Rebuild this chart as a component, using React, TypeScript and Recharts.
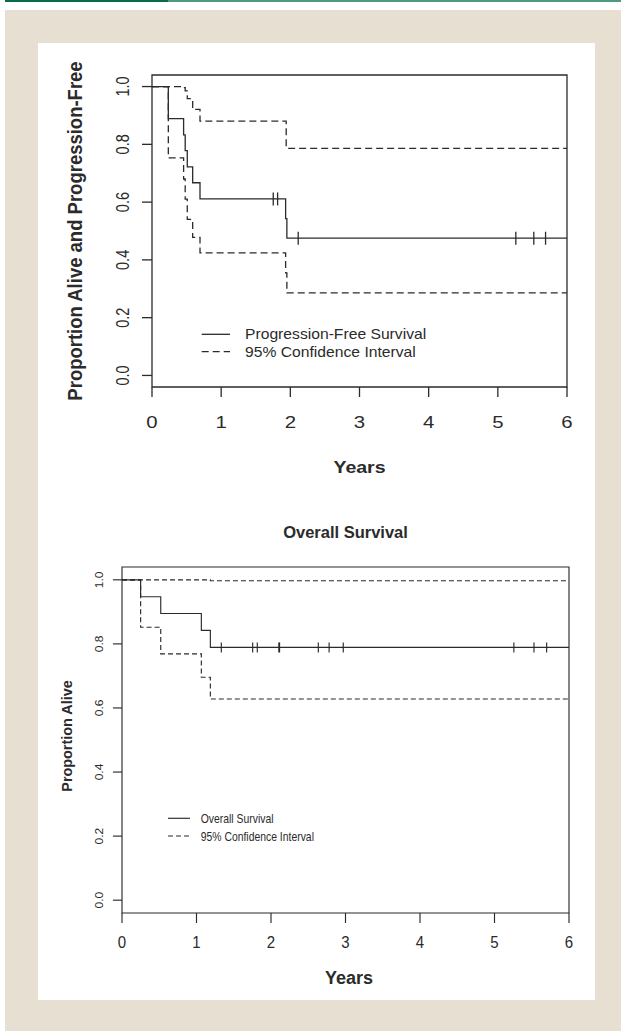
import React from 'react'
import { ComposedChart, Line, Scatter, XAxis, YAxis, ReferenceArea, Legend, Label } from 'recharts'

const FONT = '"Liberation Sans", Arial, Helvetica, sans-serif'
const INK = '#2b2b2b'

// progression-free survival (top panel)
const pfsTimes = [0, 0.236, 0.457, 0.48, 0.51, 0.588, 0.694, 1.932, 1.95, 6]
const pfsSurv = [1, 0.889, 0.833, 0.778, 0.722, 0.667, 0.611, 0.543, 0.475, 0.475]
const pfsLower = [1, 0.753, 0.68, 0.61, 0.54, 0.478, 0.424, 0.355, 0.286, 0.286]
const pfsUpperTimes = [0, 0.457, 0.48, 0.51, 0.588, 0.694, 1.94, 6]
const pfsUpper = [1, 0.996, 0.985, 0.958, 0.921, 0.88, 0.786, 0.786]
const pfsCensorTimes = [1.753, 1.816, 2.114, 5.26, 5.52, 5.69]
const pfsCensorSurv = [0.611, 0.611, 0.475, 0.475, 0.475, 0.475]
const pfsLegend = ['Progression-Free Survival', '95% Confidence Interval']

// overall survival (bottom panel)
const osTimes = [0, 0.25, 0.52, 1.065, 1.186, 6]
const osSurv = [1, 0.947, 0.895, 0.842, 0.789, 0.789]
const osLower = [1, 0.852, 0.769, 0.696, 0.628, 0.628]
const osUpperTimes = [0, 1.186, 6]
const osUpper = [1, 0.997, 0.997]
const osCensorTimes = [1.333, 1.754, 1.816, 2.105, 2.115, 2.635, 2.78, 2.97, 5.26, 5.53, 5.7]
const osCensorSurv = [0.789, 0.789, 0.789, 0.789, 0.789, 0.789, 0.789, 0.789, 0.789, 0.789, 0.789]
const osLegend = ['Overall Survival', '95% Confidence Interval']

const xTicks = [0, 1, 2, 3, 4, 5, 6]
const yTicks = [0, 0.2, 0.4, 0.6, 0.8, 1]

const zip = (t: number[], s: number[]) => t.map((v, i) => ({ t: v, s: s[i] }))

// text centred on (x, y), optionally stretched / rotated like the scanned figure
function StretchText({ x, y, text, size, sx = 1, sy = 1, rotate = 0, bold = false, anchor = 'middle' }: any) {
  return (
    <g transform={`translate(${x},${y}) scale(${sx},${sy}) rotate(${rotate})`}>
      <text
        x={0}
        y={0}
        dy={size * 0.358}
        textAnchor={anchor}
        fontSize={size}
        fontWeight={bold ? 'bold' : 'normal'}
        fontFamily={FONT}
        fill={INK}
      >
        {text}
      </text>
    </g>
  )
}

function KeyBox({ items, x1, x2, textX, rows, size, sx, dash, sw, width, height }: any) {
  return (
    <svg width={width} height={height} style={{ overflow: 'visible' }}>
      {items.map((label: string, i: number) => (
        <g key={label}>
          <line x1={x1} x2={x2} y1={rows[i]} y2={rows[i]} stroke={INK} strokeWidth={sw} strokeDasharray={i === 0 ? undefined : dash} />
          <StretchText x={textX} y={rows[i]} text={label} size={size} sx={sx} anchor="start" />
        </g>
      ))}
    </svg>
  )
}

function censorMark(half: number, sw: number) {
  return (p: any) => (
    <line x1={p.cx} x2={p.cx} y1={p.cy - half} y2={p.cy + half} stroke={INK} strokeWidth={sw} />
  )
}

function PfsChart() {
  const box = { left: 152, top: 75, right: 567, bottom: 387 }
  const dash = '7 4'
  const sw = 1.3
  return (
    <ComposedChart width={621} height={500} margin={{ top: 75, left: 92, right: 54, bottom: 53 }}>
      <XAxis
        type="number"
        dataKey="t"
        domain={[0, 6]}
        ticks={xTicks}
        allowDataOverflow
        height={60}
        axisLine={false}
        tickSize={10}
        tickLine={{ stroke: INK, strokeWidth: sw }}
        tick={(p: any) => (
          <StretchText x={p.x} y={box.bottom + 34.7} text={String(p.payload.value)} size={16.3} sx={1.25} />
        )}
      >
        <Label content={() => <StretchText x={359.5} y={467} text="Years" size={17} sx={1.15} bold />} />
      </XAxis>
      <YAxis
        type="number"
        dataKey="s"
        domain={[-0.04, 1.04]}
        ticks={yTicks}
        allowDataOverflow
        width={60}
        axisLine={false}
        tickSize={10}
        tickLine={{ stroke: INK, strokeWidth: sw }}
        tick={(p: any) => (
          <StretchText x={122} y={p.y} text={Number(p.payload.value).toFixed(1)} size={14.5} sx={1.3} rotate={-90} />
        )}
      >
        <Label
          content={() => (
            <StretchText x={75} y={231} text="Proportion Alive and Progression-Free" size={18.5} sx={1.12} rotate={-90} bold />
          )}
        />
      </YAxis>
      <ReferenceArea x1={0} x2={6} y1={-0.04} y2={1.04} fill="none" stroke={INK} strokeWidth={sw} />
      <Line data={zip(pfsUpperTimes, pfsUpper)} dataKey="s" type="stepAfter" stroke={INK} strokeWidth={sw} strokeDasharray={dash} dot={false} activeDot={false} isAnimationActive={false} />
      <Line data={zip(pfsTimes, pfsLower)} dataKey="s" type="stepAfter" stroke={INK} strokeWidth={sw} strokeDasharray={dash} dot={false} activeDot={false} isAnimationActive={false} />
      <Line data={zip(pfsTimes, pfsSurv)} dataKey="s" type="stepAfter" stroke={INK} strokeWidth={sw} dot={false} activeDot={false} isAnimationActive={false} />
      <Scatter data={zip(pfsCensorTimes, pfsCensorSurv)} dataKey="s" shape={censorMark(6.5, sw)} isAnimationActive={false} />
      <Legend
        layout="horizontal"
        verticalAlign="middle"
        align="center"
        wrapperStyle={{ position: 'absolute', left: 190, top: 320, width: 260, height: 45 }}
        content={() => (
          <KeyBox items={pfsLegend} x1={11.7} x2={40} textX={55} rows={[14.3, 31.7]} size={14} sx={1.12} dash={dash} sw={sw} width={260} height={45} />
        )}
      />
    </ComposedChart>
  )
}

function OsChart() {
  const box = { left: 122, top: 87, right: 569, bottom: 433 }
  const dash = '5 3'
  const sw = 1.15
  return (
    <ComposedChart width={621} height={540} margin={{ top: 87, left: 62, right: 52, bottom: 47 }}>
      <XAxis
        type="number"
        dataKey="t"
        domain={[0, 6]}
        ticks={xTicks}
        allowDataOverflow
        height={60}
        axisLine={false}
        tickSize={10}
        tickLine={{ stroke: INK, strokeWidth: sw }}
        tick={(p: any) => (
          <StretchText x={p.x} y={box.bottom + 28.7} text={String(p.payload.value)} size={15} sy={1.13} />
        )}
      >
        <Label content={() => <StretchText x={349} y={498} text="Years" size={18} bold />} />
      </XAxis>
      <YAxis
        type="number"
        dataKey="s"
        domain={[-0.04, 1.04]}
        ticks={yTicks}
        allowDataOverflow
        width={60}
        axisLine={false}
        tickSize={9}
        tickLine={{ stroke: INK, strokeWidth: sw }}
        tick={(p: any) => (
          <StretchText x={99} y={p.y} text={Number(p.payload.value).toFixed(1)} size={12} sx={0.9} rotate={-90} />
        )}
      >
        <Label content={() => <StretchText x={67} y={256} text="Proportion Alive" size={14.4} rotate={-90} bold />} />
      </YAxis>
      <ReferenceArea x1={0} x2={6} y1={-0.04} y2={1.04} fill="none" stroke={INK} strokeWidth={sw} />
      <Line data={zip(osUpperTimes, osUpper)} dataKey="s" type="stepAfter" stroke={INK} strokeWidth={sw} strokeDasharray={dash} dot={false} activeDot={false} isAnimationActive={false} />
      <Line data={zip(osTimes, osLower)} dataKey="s" type="stepAfter" stroke={INK} strokeWidth={sw} strokeDasharray={dash} dot={false} activeDot={false} isAnimationActive={false} />
      <Line data={zip(osTimes, osSurv)} dataKey="s" type="stepAfter" stroke={INK} strokeWidth={sw} dot={false} activeDot={false} isAnimationActive={false} />
      <Scatter data={zip(osCensorTimes, osCensorSurv)} dataKey="s" shape={censorMark(5, sw)} isAnimationActive={false} />
      <Legend
        layout="horizontal"
        verticalAlign="middle"
        align="center"
        wrapperStyle={{ position: 'absolute', left: 160, top: 330, width: 220, height: 40 }}
        content={() => (
          <KeyBox items={osLegend} x1={8} x2={30} textX={40.7} rows={[8.3, 26]} size={13} sx={0.8} dash={dash} sw={sw} width={220} height={40} />
        )}
      />
    </ComposedChart>
  )
}

export default function App() {
  return (
    <div style={{ position: 'absolute', left: 0, top: 0, width: 621, height: 1031, background: '#fff', fontFamily: FONT, overflow: 'hidden' }}>
      <div style={{ position: 'absolute', left: 5, top: 0, width: 163, height: 2, background: '#0b6b47' }} />
      <div style={{ position: 'absolute', left: 168, top: 0, width: 453, height: 2, background: '#4f9a7e' }} />
      <div style={{ position: 'absolute', left: 5, top: 10, width: 616, height: 1021, background: '#e6dfd2' }} />
      <div style={{ position: 'absolute', left: 38, top: 43, width: 557, height: 957, background: '#fff' }} />
      <div style={{ position: 'absolute', left: 0, top: 0 }}>
        <PfsChart />
      </div>
      <div
        style={{
          position: 'absolute',
          left: 195.5,
          top: 522,
          width: 300,
          lineHeight: '20px',
          textAlign: 'center',
          fontSize: 16.5,
          fontWeight: 'bold',
          color: INK,
        }}
      >
        Overall Survival
      </div>
      <div style={{ position: 'absolute', left: 0, top: 480 }}>
        <OsChart />
      </div>
    </div>
  )
}
